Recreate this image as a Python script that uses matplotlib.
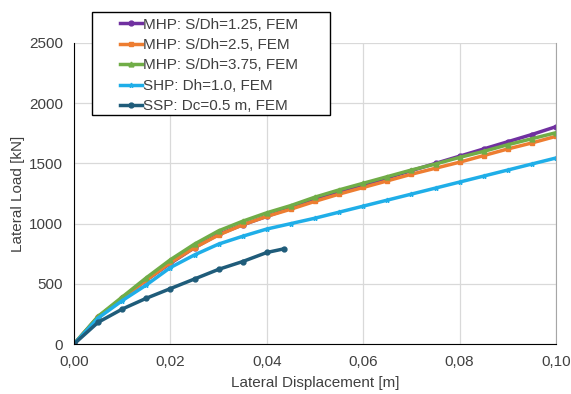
import matplotlib
matplotlib.use("Agg")
import matplotlib.pyplot as plt
from matplotlib.ticker import FuncFormatter
from matplotlib.patches import Rectangle

plt.rcParams["font.family"] = ["Liberation Sans", "DejaVu Sans"]

x = [0.0, 0.005, 0.01, 0.015, 0.02, 0.025, 0.03, 0.035, 0.04, 0.045, 0.05,
     0.055, 0.06, 0.065, 0.07, 0.075, 0.08, 0.085, 0.09, 0.095, 0.10]
mhp125 = [0, 225, 380, 530, 670, 800, 910, 990, 1060, 1130, 1200,
          1260, 1320, 1380, 1440, 1500, 1560, 1620, 1680, 1740, 1805]
mhp25 = [0, 225, 380, 530, 675, 800, 905, 990, 1060, 1120, 1185,
         1245, 1300, 1355, 1410, 1460, 1510, 1565, 1620, 1670, 1725]
mhp375 = [0, 230, 390, 550, 700, 830, 940, 1020, 1090, 1150, 1220,
          1280, 1335, 1390, 1445, 1495, 1550, 1600, 1655, 1705, 1755]
shp = [0, 215, 360, 490, 635, 740, 830, 895, 955, 1000, 1045,
       1095, 1145, 1195, 1245, 1295, 1345, 1395, 1445, 1495, 1545]
x_ssp = [0.0, 0.005, 0.01, 0.015, 0.02, 0.025, 0.03, 0.035, 0.04, 0.0435]
ssp = [0, 180, 290, 380, 460, 540, 620, 685, 760, 790]

labels = ["MHP: S/Dh=1.25, FEM", "MHP: S/Dh=2.5, FEM", "MHP: S/Dh=3.75, FEM",
          "SHP: Dh=1.0, FEM", "SSP: Dc=0.5 m, FEM"]
colors = ["#7030A0", "#ED7D31", "#70AD47", "#1FAEE8", "#1F5C7A"]
markers = ["o", "s", "^", "*", "o"]

W, H = 571, 394
FS = 11
fig = plt.figure(figsize=(W / 100, H / 100), dpi=100)
ax = fig.add_axes([74 / W, 1 - 344 / H, (556 - 74) / W, (344 - 43) / H])

series = [(x, mhp125), (x, mhp25), (x, mhp375), (x, shp), (x_ssp, ssp)]
for (xs, ys), lab, c, m in zip(series, labels, colors, markers):
    ax.plot(xs, ys, color=c, marker=m, markersize=3.5, linewidth=2.5, label=lab)

ax.set_xlim(0, 0.10)
ax.set_ylim(0, 2500)
ax.set_xticks([0, 0.02, 0.04, 0.06, 0.08, 0.10])
ax.set_yticks([0, 500, 1000, 1500, 2000, 2500])
ax.xaxis.set_major_formatter(FuncFormatter(lambda v, p: f"{v:.2f}".replace(".", ",")))
ax.grid(True, color="#d9d9d9", linewidth=0.9)
ax.set_axisbelow(True)
ax.tick_params(length=0, labelsize=FS, colors="#404040")
ax.tick_params(axis="y", pad=8)
ax.tick_params(axis="x", pad=8)
ax.spines["top"].set_visible(False)
ax.spines["right"].set_color("#a6a6a6")
ax.spines["left"].set_color("black")
ax.spines["bottom"].set_color("black")
ax.set_xlabel("Lateral Displacement [m]", fontsize=FS, color="#404040", labelpad=5)
ax.set_ylabel("Lateral Load [kN]", fontsize=FS, color="#404040", labelpad=3)

box = Rectangle((92 / W, 1 - 115 / H), (330 - 92) / W, (115 - 12) / H,
                transform=fig.transFigure, facecolor="white", edgecolor="black",
                linewidth=1.0, zorder=5)
fig.patches.append(box)

leg = fig.legend(loc="upper left", bbox_to_anchor=(114 / W, 1 - 11.5 / H),
                 fontsize=FS, frameon=False, handlelength=1.4,
                 handletextpad=0.1, labelspacing=0.42, borderpad=0.4,
                 borderaxespad=0)
leg.set_zorder(6)
for t in leg.get_texts():
    t.set_color("#404040")

fig.savefig("out.png", dpi=100)
